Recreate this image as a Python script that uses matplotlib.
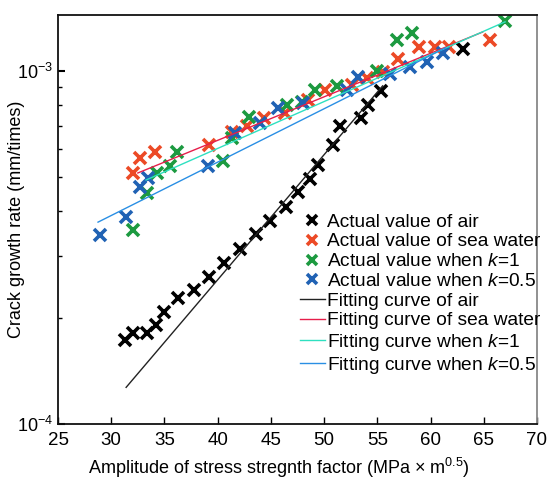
import numpy as np
import matplotlib
matplotlib.use("Agg")
import matplotlib.pyplot as plt
from matplotlib.ticker import LogLocator, NullFormatter, FixedLocator, FixedFormatter

plt.rcParams['font.family'] = ['Liberation Sans', 'DejaVu Sans']
plt.rcParams['mathtext.fontset'] = 'custom'
plt.rcParams['mathtext.rm'] = 'Liberation Sans'
plt.rcParams['mathtext.it'] = 'Liberation Sans:italic'

# ============================================
# DATA
# ============================================
air_x = [31.3, 32.05, 33.36, 34.2, 34.96, 36.27, 37.78, 39.19, 40.6, 42.1, 43.6,
         44.92, 46.42, 47.55, 48.68, 49.43, 50.84, 51.5, 53.47, 54.12, 55.35, 63.05]
air_y = [1.73e-4, 1.81e-4, 1.81e-4, 1.91e-4, 2.08e-4, 2.27e-4, 2.40e-4, 2.61e-4, 2.86e-4,
         3.13e-4, 3.45e-4, 3.76e-4, 4.12e-4, 4.54e-4, 4.94e-4, 5.42e-4, 6.17e-4, 6.98e-4,
         7.36e-4, 8.01e-4, 8.77e-4, 1.153e-3]

sea_x = [32.05, 32.7, 34.1, 39.2, 41.35, 42.76, 44.35, 46.33, 48.49, 50.08, 52.62,
         54.03, 55.53, 56.94, 58.92, 60.42, 61.73, 65.59]
sea_y = [5.14e-4, 5.67e-4, 5.90e-4, 6.17e-4, 6.71e-4, 6.98e-4, 7.36e-4, 7.60e-4, 8.28e-4,
         8.84e-4, 9.13e-4, 9.55e-4, 9.94e-4, 1.081e-3, 1.169e-3, 1.169e-3, 1.169e-3, 1.224e-3]

k1_x = [32.05, 33.36, 34.3, 35.52, 36.18, 40.5, 41.35, 42.94, 46.51, 47.92, 49.15,
        51.2, 54.97, 56.85, 58.26, 67.0]
k1_y = [3.55e-4, 4.51e-4, 5.14e-4, 5.38e-4, 5.90e-4, 5.56e-4, 6.46e-4, 7.41e-4, 8.01e-4,
        8.17e-4, 8.84e-4, 9.07e-4, 1.0e-3, 1.224e-3, 1.282e-3, 1.386e-3]

k05_x = [28.95, 31.39, 32.7, 33.46, 39.1, 41.63, 43.98, 45.67, 48.0, 52.15, 53.18,
         56.19, 58.07, 59.67, 61.17]
k05_y = [3.43e-4, 3.86e-4, 4.69e-4, 4.98e-4, 5.38e-4, 6.67e-4, 7.12e-4, 7.85e-4, 8.12e-4,
         8.84e-4, 9.62e-4, 9.81e-4, 1.027e-3, 1.060e-3, 1.124e-3]

# fitting curves (end points)
fit_air_x = [31.4, 55.5]
fit_air_y = [1.27e-4, 9.07e-4]
fit_sea_x = [32.5, 64.9]
fit_sea_y = [5.14e-4, 1.289e-3]
fit_k1_x = [33.27, 67.0]
fit_k1_y = [4.91e-4, 1.377e-3]
fit_k05_x = [28.76, 61.4]
fit_k05_y = [3.73e-4, 1.162e-3]

x_ticks = [25, 30, 35, 40, 45, 50, 55, 60, 65, 70]

# ============================================
# PLOT
# ============================================
fig = plt.figure(figsize=(5.54, 4.79), dpi=100)
ax = fig.add_axes([0.1047, 0.1148, 0.8646, 0.8539])

mk = dict(marker='x', linestyle='none', markersize=9, markeredgewidth=2.6)
ax.plot(air_x, air_y, color='#000000', label='Actual value of air', **mk)
ax.plot(sea_x, sea_y, color='#ec4a26', label='Actual value of sea water', **mk)
ax.plot(k1_x, k1_y, color='#1c9a40', label='Actual value when $k$=1', **mk)
ax.plot(k05_x, k05_y, color='#2062b4', label='Actual value when $k$=0.5', **mk)

ax.plot(fit_air_x, fit_air_y, color='#222222', lw=1.0, label='Fitting curve of air')
ax.plot(fit_sea_x, fit_sea_y, color='#e61e4a', lw=1.0, label='Fitting curve of sea water')
ax.plot(fit_k1_x, fit_k1_y, color='#2ee0c0', lw=1.0, label='Fitting curve when $k$=1')
ax.plot(fit_k05_x, fit_k05_y, color='#2a8fe4', lw=1.0, label='Fitting curve when $k$=0.5')

ax.set_yscale('log')
ax.set_xlim(25, 70)
ax.set_ylim(1e-4, 1.44e-3)
ax.xaxis.set_major_locator(FixedLocator(x_ticks))
ax.yaxis.set_major_locator(FixedLocator([1e-4, 1e-3]))
ax.yaxis.set_major_formatter(FixedFormatter(['$10^{-4}$', '$10^{-3}$']))
ax.yaxis.set_minor_locator(LogLocator(base=10, subs=np.arange(2, 10)))
ax.yaxis.set_minor_formatter(NullFormatter())

ax.tick_params(axis='x', direction='in', length=5, width=1, labelsize=13.5, top=False, pad=6)
ax.tick_params(axis='y', which='major', direction='in', length=5, width=1.5, labelsize=13, right=False)
ax.tick_params(axis='y', which='minor', direction='in', length=3, width=1, right=False)

for s in ['left', 'bottom', 'top']:
    ax.spines[s].set_color('#111111')
    ax.spines[s].set_linewidth(1.3)
ax.spines['right'].set_color('#888888')
ax.spines['right'].set_linewidth(1.3)

ax.set_xlabel('Amplitude of stress stregnth factor (MPa × m$^{0.5}$)', fontsize=13)
ax.xaxis.set_label_coords(0.461, -0.077)
ax.set_ylabel('Crack growth rate (mm/times)', fontsize=13)
ax.yaxis.set_label_coords(-0.068, 0.5)

ax.legend(loc='upper left', bbox_to_anchor=(0.505, 0.515), frameon=False, fontsize=13.8,
          handlelength=1.3, handletextpad=0.1, labelspacing=0.12, borderaxespad=0,
          borderpad=0, markerscale=0.8)

fig.savefig('out.png', dpi=100)
